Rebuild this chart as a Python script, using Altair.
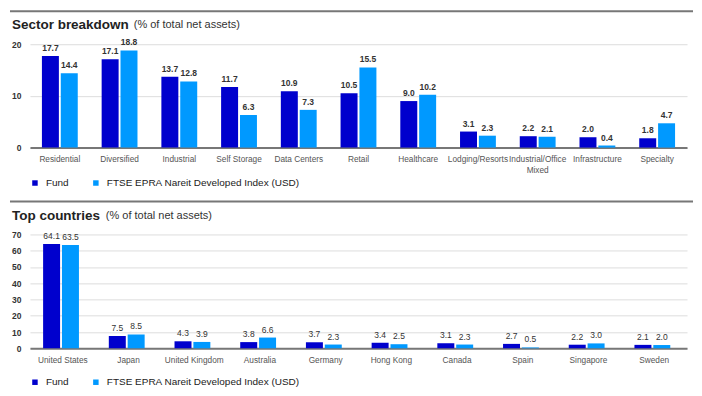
import altair as alt
import pandas as pd

sectors = ["Residential", "Diversified", "Industrial", "Self Storage", "Data Centers", "Retail",
           "Healthcare", "Lodging/Resorts", "Industrial/Office Mixed", "Infrastructure", "Specialty"]
sector_fund = [17.7, 17.1, 13.7, 11.7, 10.9, 10.5, 9.0, 3.1, 2.2, 2.0, 1.8]
sector_index = [14.4, 18.8, 12.8, 6.3, 7.3, 15.5, 10.2, 2.3, 2.1, 0.4, 4.7]

countries = ["United States", "Japan", "United Kingdom", "Australia", "Germany", "Hong Kong",
             "Canada", "Spain", "Singapore", "Sweden"]
country_fund = [64.1, 7.5, 4.3, 3.8, 3.7, 3.4, 3.1, 2.7, 2.2, 2.1]
country_index = [63.5, 8.5, 3.9, 6.6, 2.3, 2.5, 2.3, 0.5, 3.0, 2.0]

series = ["Fund", "FTSE EPRA Nareit Developed Index (USD)"]
colors = ["#0000CD", "#0099FF"]

REG = "Liberation Sans, Arial"


def long(cats, a, b):
    rows = []
    for c, va, vb in zip(cats, a, b):
        rows.append({"cat": c, "series": series[0], "value": va})
        rows.append({"cat": c, "series": series[1], "value": vb})
    return pd.DataFrame(rows)


def panel(df, cats, ymax, h, title, sub_x, title_y, legend_y, label_weight):
    base = alt.Chart(df)
    x = alt.X("cat:N", sort=cats, title=None,
              scale=alt.Scale(paddingInner=0.4, paddingOuter=0.2),
              axis=alt.Axis(domain=True, domainColor="#777777", domainWidth=2, ticks=False,
                            labelPadding=7, labelFont=REG, labelFontSize=8.3,
                            labelColor="#555555", labelAngle=0, labelOverlap=False,
                            labelLimit=200, labelLineHeight=10.5, grid=False,
                            labelExpr="length(datum.label) > 16 ? split(datum.label, ' ') : datum.label"))
    y = alt.Y("value:Q", title=None, scale=alt.Scale(domain=[0, ymax], nice=False),
              axis=alt.Axis(values=list(range(0, ymax + 1, 10)), domain=False, ticks=False,
                            labelPadding=9, labelFont=REG, labelFontSize=8.5,
                            labelFontWeight="bold", labelColor="#333333",
                            grid=True, gridColor="#DDDDDD", gridWidth=1))
    xo = alt.XOffset("series:N", sort=series, scale=alt.Scale(paddingInner=0.1))
    color = alt.Color("series:N", sort=series,
                      scale=alt.Scale(domain=series, range=colors),
                      legend=alt.Legend(orient="none", legendX=0, legendY=legend_y,
                                        direction="horizontal", title=None,
                                        symbolType="square", symbolSize=30,
                                        symbolStrokeWidth=0, labelFont=REG,
                                        labelFontSize=10, labelColor="#222222",
                                        labelLimit=400, columnPadding=22,
                                        labelOffset=6, padding=0))
    bars = base.mark_bar().encode(x=x, y=y, xOffset=xo, color=color)
    labels = base.mark_text(baseline="alphabetic", dy=-5, font=REG, fontSize=8.5,
                            fontWeight=label_weight, color="#333333").encode(
        x=x, y=y, xOffset=xo, text=alt.Text("value:Q", format=".1f"))
    one = alt.Chart(pd.DataFrame({"k": [0]}))
    rule = one.mark_rule(color="#777777", strokeWidth=2).encode(
        x=alt.value(-20), x2=alt.value(664), y=alt.value(-33))
    t1 = one.mark_text(align="left", baseline="middle", font=REG, fontSize=13.5,
                       fontWeight="bold", color="#222222").encode(
        x=alt.value(-18), y=alt.value(title_y), text=alt.value(title))
    t2 = one.mark_text(align="left", baseline="middle", font=REG, fontSize=11,
                       color="#333333").encode(
        x=alt.value(sub_x), y=alt.value(title_y), text=alt.value("(% of total net assets)"))
    return alt.layer(bars, labels, rule, t1, t2).properties(width=658, height=h)


top = panel(long(sectors, sector_fund, sector_index), sectors, 20, 103.5,
            "Sector breakdown", 104, -19, 134, "bold")
bottom = panel(long(countries, country_fund, country_index), countries, 70, 114,
               "Top countries", 76, -18.3, 143, "normal")

chart = alt.vconcat(top, bottom, spacing=86.5, bounds="flush").resolve_scale(
    color="independent"
).properties(
    padding={"left": 1, "top": 2, "right": 0, "bottom": 0},
    background="white"
).configure_view(strokeWidth=0)

chart.save("out.html", embed_options={"renderer": "svg", "actions": False})
